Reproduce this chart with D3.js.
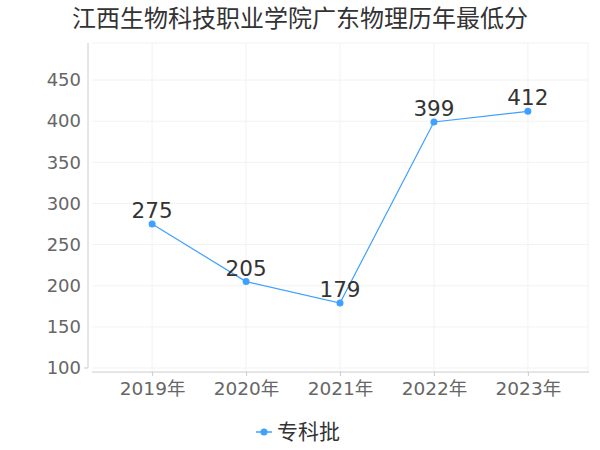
<!DOCTYPE html>
<html>
<head>
<meta charset="utf-8">
<script src="https://cdn.jsdelivr.net/npm/d3@7"></script>
<style>
  body { margin: 0; background: #fff; }
  text { font-family: "DejaVu Sans", "Noto Sans CJK SC", sans-serif; }
</style>
</head>
<body>
<div id="chart"></div>
<script>
var years = ["2019年", "2020年", "2021年", "2022年", "2023年"];
var scores = [275, 205, 179, 399, 412];
var yTicks = [100, 150, 200, 250, 300, 350, 400, 450];
var seriesName = "专科批";
var title = "江西生物科技职业学院广东物理历年最低分";

var width = 600, height = 450;
var lineColor = "#3fa0ff";

var svg = d3.select("#chart").append("svg")
  .attr("width", width)
  .attr("height", height);

var x = d3.scalePoint()
  .domain(years)
  .range([92, 588])
  .padding(0.64);

var y = d3.scaleLinear()
  .domain([100, 495])
  .range([368, 43]);

// title
svg.append("text")
  .attr("x", 300)
  .attr("y", 27)
  .attr("text-anchor", "middle")
  .attr("font-size", 24)
  .attr("fill", "#333")
  .attr("font-family", "'Noto Sans CJK SC', sans-serif")
  .text(title);

// grid
var grid = svg.append("g");
grid.selectAll("line.h")
  .data(yTicks.concat([495]))
  .join("line")
  .attr("class", "h")
  .attr("x1", 92).attr("x2", 588)
  .attr("y1", d => y(d)).attr("y2", d => y(d))
  .attr("stroke", "#f2f2f2");
grid.selectAll("line.v")
  .data(years)
  .join("line")
  .attr("class", "v")
  .attr("x1", d => x(d)).attr("x2", d => x(d))
  .attr("y1", 43).attr("y2", 372)
  .attr("stroke", "#f2f2f2");
grid.append("line")
  .attr("x1", 588).attr("x2", 588)
  .attr("y1", 43).attr("y2", 372)
  .attr("stroke", "#f2f2f2");

// y axis
var yAxis = svg.append("g")
  .attr("transform", "translate(88,0)")
  .call(d3.axisLeft(y).tickValues(yTicks).tickSize(0).tickPadding(7));
yAxis.select(".domain").attr("stroke", "#ccc").attr("d", "M0," + 43 + "V" + 368 + "H-4");
yAxis.selectAll("text").attr("font-size", 18).attr("fill", "#666")
  .attr("font-family", "'DejaVu Sans', sans-serif");

// x axis
var xAxis = svg.append("g")
  .attr("transform", "translate(0,372)")
  .call(d3.axisBottom(x).tickSize(4).tickPadding(6));
xAxis.select(".domain").attr("stroke", "#ccc").attr("d", "M92,0H589");
xAxis.selectAll(".tick line").attr("stroke", "#ccc");
xAxis.selectAll("text").attr("font-size", 18.5).attr("fill", "#666")
  .attr("font-family", "'DejaVu Sans', 'Noto Sans CJK SC', sans-serif");

// line
var line = d3.line()
  .x((d, i) => x(years[i]))
  .y(d => y(d));

svg.append("path")
  .datum(scores)
  .attr("d", line)
  .attr("fill", "none")
  .attr("stroke", lineColor)
  .attr("stroke-width", 1.2);

svg.selectAll("circle.pt")
  .data(scores)
  .join("circle")
  .attr("class", "pt")
  .attr("cx", (d, i) => x(years[i]))
  .attr("cy", d => y(d))
  .attr("r", 3.5)
  .attr("fill", lineColor);

svg.selectAll("text.lbl")
  .data(scores)
  .join("text")
  .attr("class", "lbl")
  .attr("x", (d, i) => x(years[i]))
  .attr("y", d => y(d) - 6)
  .attr("text-anchor", "middle")
  .attr("font-size", 21.5)
  .attr("fill", "#333")
  .attr("font-family", "'Noto Sans', sans-serif")
  .text(d => d);

// legend
var lg = svg.append("g").attr("transform", "translate(264,432)");
lg.append("line")
  .attr("x1", -8).attr("x2", 8)
  .attr("stroke", lineColor).attr("stroke-width", 1.5);
lg.append("circle").attr("r", 3.5).attr("fill", lineColor);
lg.append("text")
  .attr("x", 13)
  .attr("y", 7)
  .attr("font-size", 21)
  .attr("fill", "#333")
  .attr("font-family", "'Noto Sans CJK SC', sans-serif")
  .text(seriesName);
</script>
</body>
</html>
